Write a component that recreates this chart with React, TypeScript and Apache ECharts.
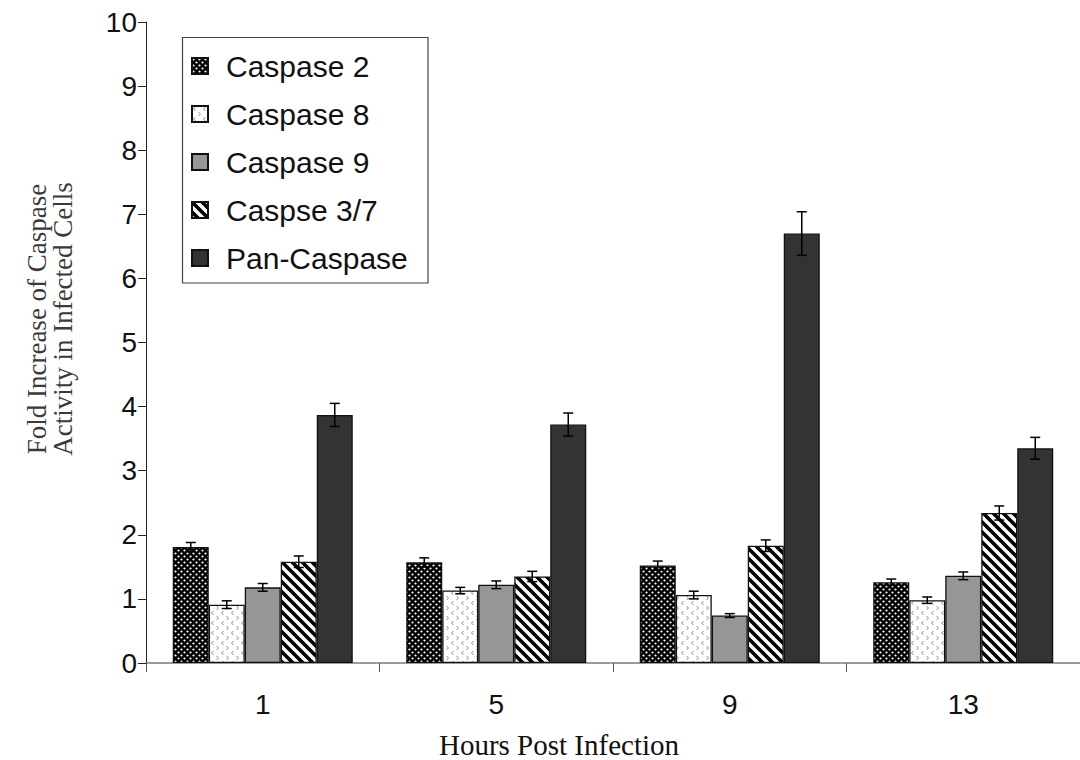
import React, { useEffect, useRef } from "react";
import * as echarts from "echarts";

// ---- data ----
const categories = ["1", "5", "9", "13"];
const seriesNames = ["Caspase 2", "Caspase 8", "Caspase 9", "Caspse 3/7", "Pan-Caspase"];
const caspase2 = [1.81, 1.57, 1.52, 1.26];
const caspase8 = [0.91, 1.13, 1.06, 0.98];
const caspase9 = [1.18, 1.22, 0.74, 1.36];
const caspase37 = [1.58, 1.35, 1.83, 2.34];
const panCaspase = [3.87, 3.72, 6.7, 3.35];
const err2 = [0.07, 0.07, 0.07, 0.05];
const err8 = [0.06, 0.05, 0.06, 0.05];
const err9 = [0.06, 0.06, 0.03, 0.06];
const err37 = [0.09, 0.08, 0.09, 0.11];
const errPan = [0.18, 0.18, 0.34, 0.17];
const yMin = 0;
const yMax = 10;
const yInterval = 1;
const xTitle = "Hours Post Infection";
const yTitle = "Fold Increase of Caspase\nActivity in Infected Cells";

const BAR_W = 36;

function makePattern(kind: string) {
  const size = kind === "dots" ? 6 : 10;
  const c = document.createElement("canvas");
  c.width = size;
  c.height = size;
  const ctx = c.getContext("2d")!;
  if (kind === "dots") {
    ctx.fillStyle = "#000";
    ctx.fillRect(0, 0, size, size);
    ctx.fillStyle = "#fff";
    ctx.beginPath();
    ctx.arc(1.5, 1.5, 1.1, 0, Math.PI * 2);
    ctx.fill();
    ctx.beginPath();
    ctx.arc(4.5, 4.5, 1.1, 0, Math.PI * 2);
    ctx.fill();
  } else if (kind === "light") {
    ctx.fillStyle = "#fff";
    ctx.fillRect(0, 0, size, size);
    ctx.strokeStyle = "#8c8c8c";
    ctx.lineWidth = 1;
    ctx.beginPath();
    ctx.moveTo(3.5, 1); ctx.lineTo(1.5, 3); ctx.lineTo(3.5, 5);
    ctx.moveTo(6.5, 6); ctx.lineTo(8.5, 8); ctx.lineTo(6.5, 10);
    ctx.stroke();
  } else if (kind === "stripes") {
    ctx.fillStyle = "#fff";
    ctx.fillRect(0, 0, size, size);
    ctx.strokeStyle = "#000";
    ctx.lineWidth = 3.6;
    ctx.beginPath();
    for (const o of [-size, 0, size]) {
      ctx.moveTo(o - 5, -5);
      ctx.lineTo(o + size + 5, size + 5);
    }
    ctx.stroke();
  }
  return { image: c, repeat: "repeat", imageWidth: size, imageHeight: size } as any;
}

export default function App() {
  const ref = useRef<HTMLDivElement>(null);
  useEffect(() => {
    document.body.style.margin = "0";
    const chart = echarts.init(ref.current!, undefined, { renderer: "svg" });
    const fills: any[] = [
      makePattern("dots"),
      makePattern("light"),
      "#969696",
      makePattern("stripes"),
      "#333333",
    ];
    const values = [caspase2, caspase8, caspase9, caspase37, panCaspase];
    const errors = [err2, err8, err9, err37, errPan];

    const barSeries = values.map((vals, idx) => ({
      type: "bar",
      name: seriesNames[idx],
      data: vals,
      barWidth: BAR_W,
      barGap: "0%",
      itemStyle: { color: fills[idx], borderColor: "#111", borderWidth: 1.3 },
      emphasis: { disabled: true },
    }));

    const errSeries = values.map((vals, idx) => ({
      type: "custom",
      name: seriesNames[idx] + " err",
      data: vals.map((v, i) => [i, v, errors[idx][i]]),
      encode: { x: 0, y: 1 },
      z: 10,
      silent: true,
      renderItem: (params: any, api: any) => {
        const ci = api.value(0);
        const v = api.value(1);
        const e = api.value(2);
        const center = api.coord([ci, v]);
        const x = center[0] + (idx - 2) * BAR_W;
        const yTop = api.coord([ci, v + e])[1];
        const yBot = api.coord([ci, v - e])[1];
        const hw = 5;
        const style = { stroke: "#000", lineWidth: 1.5 };
        return {
          type: "group",
          children: [
            { type: "line", shape: { x1: x, y1: yTop, x2: x, y2: yBot }, style },
            { type: "line", shape: { x1: x - hw, y1: yTop, x2: x + hw, y2: yTop }, style },
            { type: "line", shape: { x1: x - hw, y1: yBot, x2: x + hw, y2: yBot }, style },
          ],
        };
      },
    }));

    chart.setOption({
      animation: false,
      backgroundColor: "#fff",
      grid: { left: 146, top: 22, width: 937, height: 641, containLabel: false },
      legend: {
        data: seriesNames,
        orient: "vertical",
        left: 191,
        top: 51,
        padding: 0,
        itemWidth: 16,
        itemHeight: 16,
        itemGap: 18,
        selectedMode: false,
        icon: "rect",
        textStyle: {
          fontSize: 30,
          lineHeight: 30,
          fontFamily: "Liberation Sans, Arial, sans-serif",
          color: "#111",
          padding: [0, 0, 0, 13],
        },
      },
      xAxis: {
        type: "category",
        data: categories,
        axisLine: { lineStyle: { color: "#7a7a7a", width: 1.5 } },
        axisTick: { show: true, length: 9, interval: 0, lineStyle: { color: "#555" } },
        axisLabel: {
          margin: 27,
          fontSize: 28,
          color: "#111",
          fontFamily: "Liberation Sans, Arial, sans-serif",
        },
        splitLine: { show: false },
      },
      yAxis: {
        type: "value",
        min: yMin,
        max: yMax,
        interval: yInterval,
        axisLine: { show: true, lineStyle: { color: "#222", width: 1 } },
        axisTick: { show: true, length: 8, lineStyle: { color: "#222" } },
        axisLabel: {
          margin: 9,
          fontSize: 28,
          color: "#111",
          fontFamily: "Liberation Sans, Arial, sans-serif",
        },
        splitLine: { show: false },
      },
      graphic: [
        {
          type: "rect",
          shape: { x: 182.5, y: 37.5, width: 245.5, height: 245.5 },
          style: { fill: "none", stroke: "#444", lineWidth: 1.2 },
          z: 5,
        },
        {
          type: "text",
          x: 50,
          y: 319,
          rotation: Math.PI / 2,
          style: {
            text: yTitle,
            fill: "#3a3a3a",
            fontSize: 27,
            fontFamily: "Liberation Serif, Times New Roman, serif",
            lineHeight: 26,
            textAlign: "center",
            textVerticalAlign: "middle",
          },
        },
        {
          type: "text",
          x: 559,
          y: 745,
          style: {
            text: xTitle,
            fill: "#111",
            fontSize: 29,
            fontFamily: "Liberation Serif, Times New Roman, serif",
            textAlign: "center",
            textVerticalAlign: "middle",
          },
        },
      ],
      series: [...barSeries, ...errSeries],
    });
    return () => chart.dispose();
  }, []);
  return <div ref={ref} style={{ width: 1080, height: 760 }} />;
}
